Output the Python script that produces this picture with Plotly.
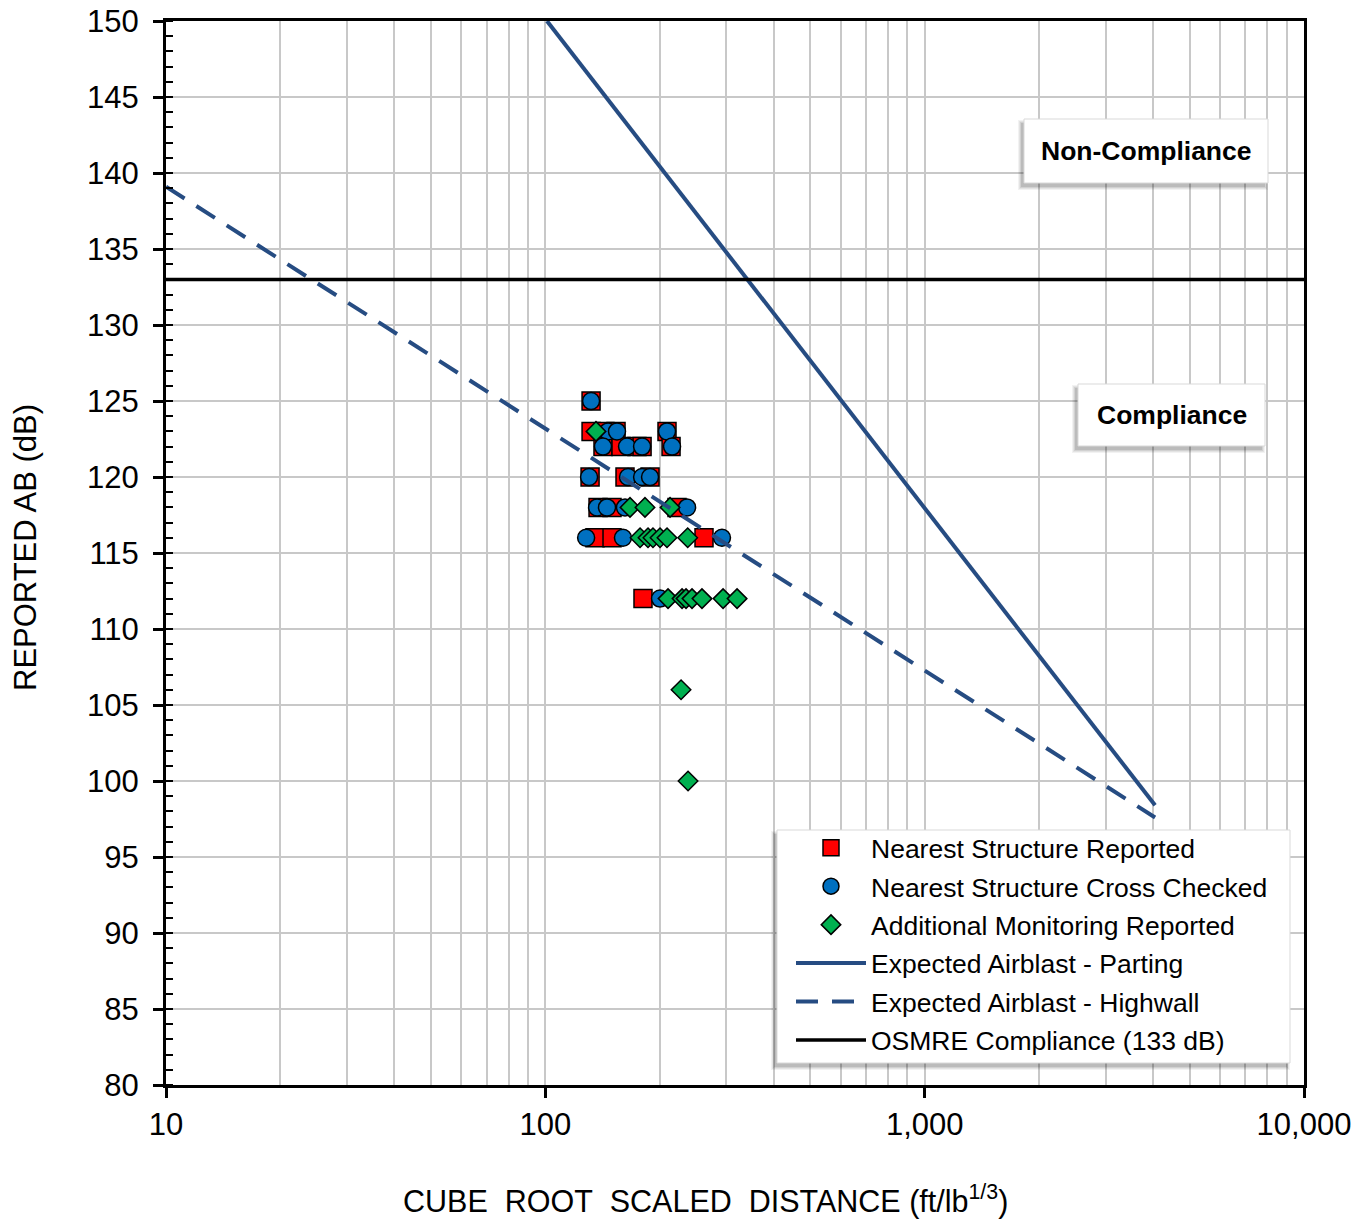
import plotly.graph_objects as go

# Nearest Structure Reported (red squares): scaled distance, airblast dB
rep_sd = [132, 132, 143.6, 153.6, 209.3, 141.9, 158.3, 174.4, 179.9, 214.5,
          131.2, 162.2, 188.8, 137.7, 149.9, 222.4, 135.2, 149.9, 262.0, 180.9]
rep_ab = [125, 123, 123, 123, 123, 122, 122, 122, 122, 122,
          120, 120, 120, 118, 118, 118, 116, 116, 116, 112]

# Nearest Structure Cross Checked (blue circles)
chk_sd = [132, 146.3, 154.5, 209.3, 141.9, 164.2, 179.9, 215.8,
          130.4, 165.2, 179.9, 188.8, 136.9, 145.4, 162.2, 236.4,
          128.1, 160.2, 292.2, 200.6]
chk_ab = [125, 123, 123, 123, 122, 122, 122, 122,
          120, 120, 120, 120, 118, 118, 118, 118,
          116, 116, 116, 112]

# Additional Monitoring Reported (green diamonds)
add_sd = [136.0, 167.2, 183.1, 213.2, 177.7, 186.5, 192.2, 200.6, 209.3, 237.3,
          210.6, 229.3, 234.9, 243.6, 258.8, 294.1, 320.2, 227.9, 237.8]
add_ab = [123, 118, 118, 118, 116, 116, 116, 116, 116, 116,
          112, 112, 112, 112, 112, 112, 112, 106, 100]

# Expected airblast curves
parting_sd = [101, 4050]
parting_ab = [150, 98.4]
highwall_sd = [10, 4050]
highwall_ab = [139.1, 97.6]

# OSMRE compliance limit
limit_sd = [10, 10000]
limit_ab = [133, 133]

x_tickvals = [10, 100, 1000, 10000]
x_ticktext = ["10", "100", "1,000", "10,000"]
x_minor = [m * d for d in (10, 100, 1000) for m in range(2, 10)]

FONT = "Arial, Liberation Sans, sans-serif"
LINE_BLUE = "#264C82"

fig = go.Figure()

fig.add_trace(go.Scatter(
    x=rep_sd, y=rep_ab, mode="markers", name="Nearest Structure Reported",
    legendgroup="a",
    marker=dict(symbol="square", size=18, color="#FF0000",
                line=dict(color="black", width=1.5))))
fig.add_trace(go.Scatter(
    x=chk_sd, y=chk_ab, mode="markers", name="Nearest Structure Cross Checked",
    legendgroup="b",
    marker=dict(symbol="circle", size=17, color="#0070C0",
                line=dict(color="black", width=1.5))))
fig.add_trace(go.Scatter(
    x=add_sd, y=add_ab, mode="markers", name="Additional Monitoring Reported",
    legendgroup="c",
    marker=dict(symbol="diamond", size=15, color="#00B050",
                line=dict(color="black", width=1.5))))
fig.add_trace(go.Scatter(
    x=parting_sd, y=parting_ab, mode="lines", name="Expected Airblast - Parting",
    legendgroup="d", line=dict(color=LINE_BLUE, width=4)))
fig.add_trace(go.Scatter(
    x=highwall_sd, y=highwall_ab, mode="lines", name="Expected Airblast - Highwall",
    legendgroup="e", line=dict(color=LINE_BLUE, width=4, dash="22px,14px")))
fig.add_trace(go.Scatter(
    x=limit_sd, y=limit_ab, mode="lines", name="OSMRE Compliance (133 dB)",
    legendgroup="f", line=dict(color="black", width=3.5)))

# Plot area in pixels, used to place the boxes and titles
W, H = 1369, 1220
PL, PR, PT, PB = 166, 1304, 21, 1085
PW, PH = PR - PL, PB - PT


def px_to_paper(x0, y0, x1, y1):
    return dict(x0=(x0 - PL) / PW, x1=(x1 - PL) / PW,
                y0=(PB - y1) / PH, y1=(PB - y0) / PH)


def shadow(x0, y0, x1, y1, dx=-3, dy=4):
    for g, op in ((3, 0.05), (2, 0.06), (1, 0.08), (0, 0.10)):
        fig.add_shape(type="rect", xref="paper", yref="paper",
                      **px_to_paper(x0 + dx - g, y0 + dy - g, x1 + dx + g, y1 + dy + g),
                      fillcolor=f"rgba(0,0,0,{op})", line=dict(width=0),
                      layer="above")


def white_box(x0, y0, x1, y1):
    shadow(x0, y0, x1, y1)
    fig.add_shape(type="rect", xref="paper", yref="paper",
                  **px_to_paper(x0, y0, x1, y1),
                  fillcolor="white", line=dict(color="#D9D9D9", width=1),
                  layer="above")


def label_box(text, x0, y0, x1, y1):
    white_box(x0, y0, x1, y1)
    p = px_to_paper(x0, y0, x1, y1)
    fig.add_annotation(text=f"<b>{text}</b>", xref="paper", yref="paper",
                       x=(p["x0"] + p["x1"]) / 2, y=(p["y0"] + p["y1"]) / 2,
                       xanchor="center", yanchor="middle", showarrow=False,
                       font=dict(family=FONT, size=26.5, color="black"))


label_box("Non-Compliance", 1024, 119, 1268, 183)
label_box("Compliance", 1078, 384, 1265, 446)

# Legend frame
white_box(777, 830, 1290, 1063)

# Axis titles
fig.add_annotation(
    text="CUBE\u00a0\u00a0ROOT\u00a0\u00a0SCALED\u00a0\u00a0DISTANCE (ft/lb<sup>1/3</sup>)",
    xref="paper", yref="paper", x=(705 - PL) / PW, y=(PB - 1199) / PH,
    xanchor="center", yanchor="middle", showarrow=False,
    font=dict(family=FONT, size=30.5, color="black"))
fig.add_annotation(
    text="REPORTED AB (dB)", textangle=-90,
    xref="paper", yref="paper", x=(25 - PL) / PW, y=(PB - 548) / PH,
    xanchor="center", yanchor="middle", showarrow=False,
    font=dict(family=FONT, size=31, color="black"))

fig.update_layout(
    width=W, height=H,
    margin=dict(l=PL, r=W - PR, t=PT, b=H - PB),
    paper_bgcolor="white", plot_bgcolor="white",
    font=dict(family=FONT, size=31, color="black"),
    showlegend=True,
    legend=dict(x=(791 - PL) / PW, y=(PB - 824) / PH, xanchor="left", yanchor="top",
                bgcolor="rgba(0,0,0,0)", borderwidth=0,
                font=dict(family=FONT, size=26.5, color="black"),
                traceorder="grouped", tracegroupgap=1, itemwidth=70),
    xaxis=dict(
        type="log", range=[1, 4], automargin=False,
        tickvals=x_tickvals, ticktext=x_ticktext,
        ticks="outside", ticklen=10, tickwidth=2.5, tickcolor="black",
        showline=True, linecolor="black", linewidth=3, mirror=True,
        showgrid=True, gridcolor="#C8C8C8", gridwidth=2,
        minor=dict(tickvals=x_minor, showgrid=True, gridcolor="#C8C8C8",
                   gridwidth=2, ticks=""),
        tickfont=dict(size=31),
        zeroline=False,
    ),
    yaxis=dict(
        range=[80, 150], dtick=5, tick0=80, automargin=False,
        ticks="outside", ticklen=10, tickwidth=2.5, tickcolor="black",
        ticklabelstandoff=8,
        showline=True, linecolor="black", linewidth=3, mirror=True,
        showgrid=True, gridcolor="#C8C8C8", gridwidth=2,
        minor=dict(dtick=1, ticks="inside", ticklen=7, tickwidth=2,
                   tickcolor="black", showgrid=False),
        tickfont=dict(size=31),
        zeroline=False,
    ),
)

fig.write_html("out.html")
